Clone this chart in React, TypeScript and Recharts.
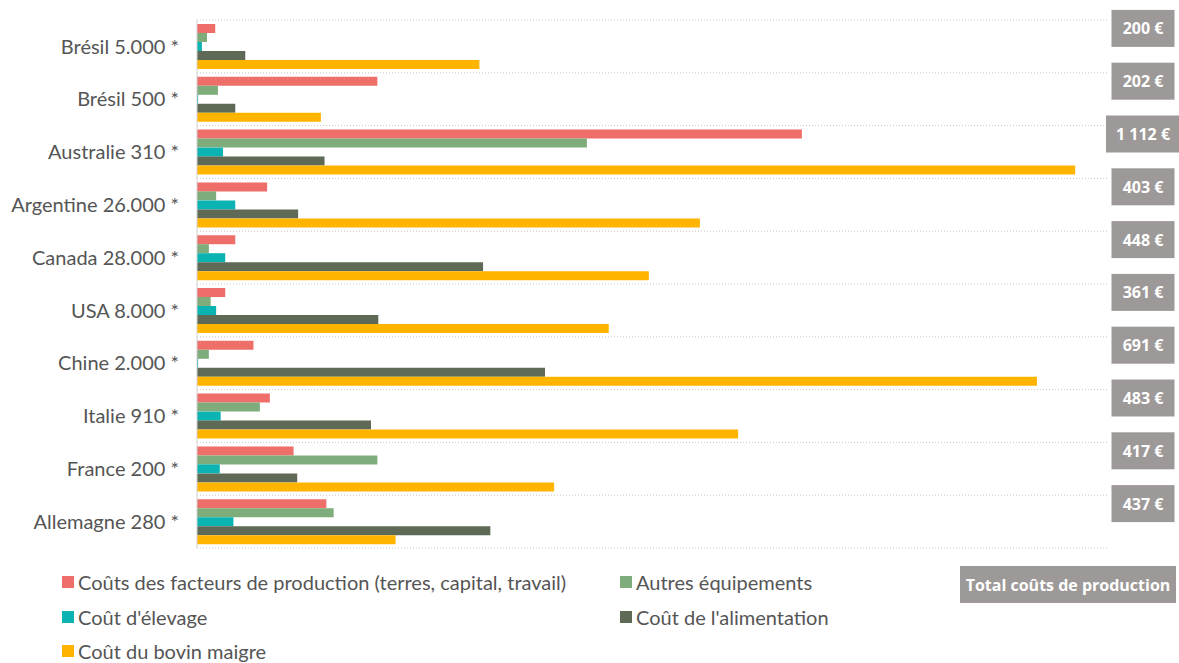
import { Bar, BarChart, CartesianGrid, Legend, XAxis, YAxis } from 'recharts';

const countries = [
  'Brésil 5.000 *',
  'Brésil 500 *',
  'Australie 310 *',
  'Argentine 26.000 *',
  'Canada 28.000 *',
  'USA 8.000 *',
  'Chine 2.000 *',
  'Italie 910 *',
  'France 200 *',
  'Allemagne 280 *',
];
const facteurs = [10, 99, 332, 38.5, 21, 15.5, 31, 40, 53, 71];
const equipements = [5.5, 11.5, 214, 10.5, 6.5, 7.5, 6.5, 34.5, 99, 75];
const elevage = [2.7, 0.6, 14.3, 21, 15.5, 10.5, 0.6, 13, 12.5, 20];
const alimentation = [26.5, 21, 70, 55.5, 157, 99.5, 191, 95.5, 55, 161];
const maigre = [155, 68, 482, 276, 248, 226, 461, 297, 196, 109];
const totals = ['200 €', '202 €', '1 112 €', '403 €', '448 €', '361 €', '691 €', '483 €', '417 €', '437 €'];

const series = [
  { key: 'facteurs', name: 'Coûts des facteurs de production (terres, capital, travail)', color: '#EE6F6A' },
  { key: 'equipements', name: 'Autres équipements', color: '#7EAD7B' },
  { key: 'elevage', name: "Coût d'élevage", color: '#0BB3B3' },
  { key: 'alimentation', name: "Coût de l'alimentation", color: '#5F6A56' },
  { key: 'maigre', name: 'Coût du bovin maigre', color: '#FFB400' },
];

const data = countries.map((country, i) => ({
  country,
  total: totals[i],
  facteurs: facteurs[i],
  equipements: equipements[i],
  elevage: elevage[i],
  alimentation: alimentation[i],
  maigre: maigre[i],
}));

const labelFont = 'Lato, "Noto Sans", sans-serif';
const boxGray = '#9D9998';

function TotalTick({ x, y, payload }: any) {
  const label = totals[payload.index] ?? '';
  const w = label.length > 5 ? 74 : 63;
  return (
    <g transform={`translate(${x + 35},${y - 18})`}>
      <rect x={-w / 2} y={-18.5} width={w} height={37} fill={boxGray} />
      <text
        x={0}
        y={6}
        textAnchor="middle"
        fill="#fff"
        fontFamily='"Open Sans", sans-serif'
        fontWeight={700}
        fontSize={16}
      >
        {label}
      </text>
    </g>
  );
}

// zero-height wrapper so the legend doesn't eat into the plot area
function LegendBox() {
  return (
    <div style={{ position: 'relative', height: 0, overflow: 'visible', fontFamily: labelFont, fontSize: 20, color: '#555' }}>
      <div
        style={{
          display: 'grid',
          gridTemplateColumns: '558px 330px',
          gridAutoRows: '34.5px',
          paddingLeft: 62,
          alignItems: 'center',
        }}
      >
        {series.map((s) => (
          <div key={s.key} style={{ display: 'flex', alignItems: 'center', whiteSpace: 'nowrap' }}>
            <span style={{ width: 12, height: 12, background: s.color, marginRight: 4, display: 'inline-block', flex: 'none' }} />
            <span>{s.name}</span>
          </div>
        ))}
      </div>
      <div
        style={{
          position: 'absolute',
          left: 960,
          top: 1,
          width: 216,
          height: 37,
          background: boxGray,
          color: '#fff',
          fontFamily: '"Open Sans", sans-serif',
          fontWeight: 700,
          fontSize: 16,
          display: 'flex',
          alignItems: 'center',
          justifyContent: 'center',
        }}
      >
        Total coûts de production
      </div>
    </div>
  );
}

export default function App() {
  return (
    <div style={{ position: 'absolute', left: 0, top: 0, background: '#fff' }}>
      <BarChart
        width={1179}
        height={663}
        data={data}
        layout="vertical"
        margin={{ top: 20, right: 0, bottom: 115, left: 0 }}
        barCategoryGap={4}
        barGap={0}
      >
        <CartesianGrid
          vertical={false}
          stroke="#c8c8c8"
          strokeDasharray="1 2"
          horizontalCoordinatesGenerator={({ offset }: any) =>
            Array.from({ length: countries.length + 1 }, (_, i) => offset.top + (i * offset.height) / countries.length)
          }
        />
        <XAxis type="number" domain={[0, 500]} hide />
        <YAxis
          yAxisId="left"
          type="category"
          dataKey="country"
          width={197}
          axisLine={{ stroke: '#d0d0d0' }}
          tickLine={false}
          tickMargin={12}
          tick={{ fill: '#555', fontSize: 20, fontFamily: labelFont }}
        />
        <YAxis
          yAxisId="right"
          orientation="right"
          type="category"
          dataKey="country"
          width={71}
          axisLine={false}
          tickLine={false}
          tickSize={0}
          tickMargin={0}
          tick={<TotalTick />}
        />
        {series.map((s) => (
          <Bar key={s.key} yAxisId="left" dataKey={s.key} name={s.name} fill={s.color} isAnimationActive={false} />
        ))}
        <Legend content={<LegendBox />} wrapperStyle={{ top: 565, left: 0, width: 1179 }} />
      </BarChart>
    </div>
  );
}
